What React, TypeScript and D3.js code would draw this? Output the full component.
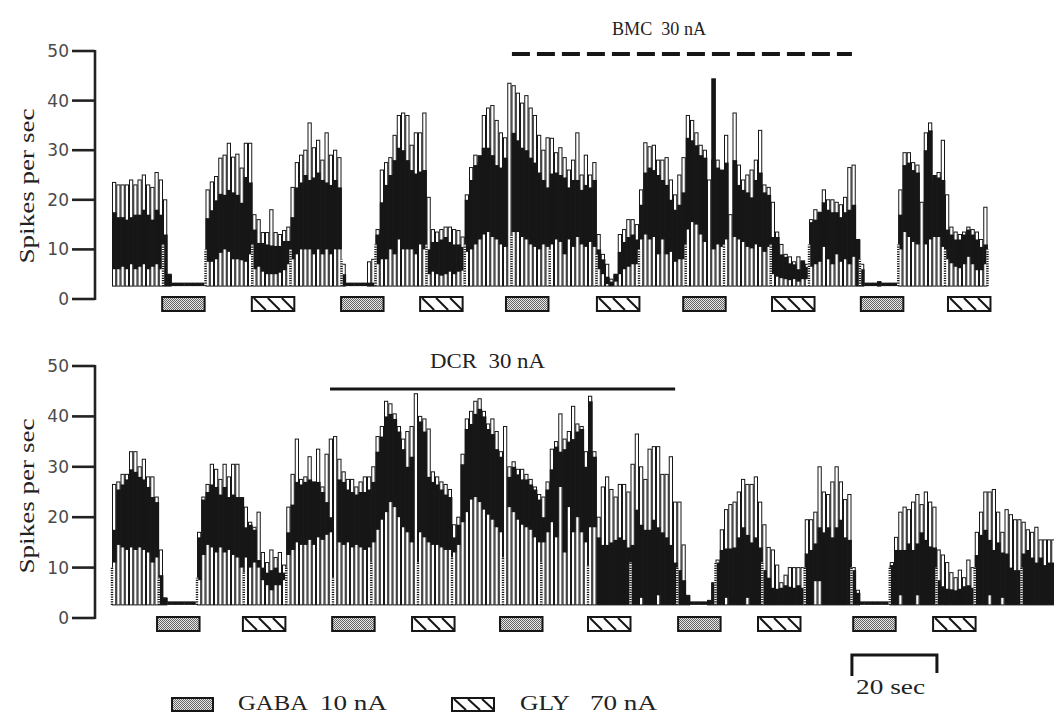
import React from "react";
import * as d3 from "d3";

// ---------- data (1-s bins, spikes per sec) ----------
const BASELINE = 2.6;
const yTicks = [0, 10, 20, 30, 40, 50];

// Upper panel (BMC 30 nA)
const topPeak = [
  23.5,23,23,23,24,23,24,25,23,22.5,25.5,24,
  20,5,3,3,3,3,3,3,3,3,
  22,23.6,24.7,28.4,29,31.4,28.6,29.2,26.4,31.4,31.4,
  17,16,13.4,13.4,18,13.4,13,13.8,14.5,
  22.5,27.5,29,30,35.5,30.5,32,28,33.5,29,30,28.5,
  7,3,3,3,3,3,7.5,8,
  14,26,27.5,28.5,33,37,37.5,37,31,33.5,33.5,37.5,
  20.5,14,13.5,14,14.5,14.5,14,13.8,12.5,
  21,26.5,29,27.5,37,38.5,39,36,33.5,32.5,43.5,
  43,41.5,39.5,41,38.5,37,33,30,32.5,
  32.4,29.5,30.5,28.5,26,28,33.5,25,29,25,27.5,
  13,9,7,4,5,13,14,16,16,15,
  22,31.5,30.7,31,28,28,28.5,24,21,25,28.5,
  37,36,33.5,31,30,24,28,28,26,
  33,17,37.5,27,24,25,26,28,34,23,22.5,
  19.5,13.5,11,9,8.5,7.5,8.5,7.5,7,
  16,18,17.5,22,20,20,19.5,19,20.5,26.5,27,12,
  7,3,3,3,3.5,3,3,3,3,
  22,29.5,29.5,27.5,27,19.5,33.5,35.5,24,25.5,32,
  21,14.5,13.5,13,13.5,14.5,14,13.5,12,18.5,
];
const topHigh = [
  17.5,16.5,16.5,16,16.5,17,17,18,17,16,18,17,
  13,5,3.3,3.3,3.3,3.3,3.3,3.3,3.3,3.3,
  16.3,17.9,19.9,21.2,21,22,21.5,21,19.4,24.6,23.5,
  14,11.3,11.3,11,10.8,10.7,10.7,11.7,11.7,
  16.5,22.5,23.5,25,24,24.5,25.5,24,23.5,23,24,22.5,
  5,3.3,3.3,3.3,3.3,3.3,3.3,3.3,
  13,19.5,23,25,28,30.5,30,28,26,25.3,25.7,26,
  10,11.5,11.5,12,12.5,11.5,11,11,10.5,
  20,24,27,29,30.5,30.5,29,27,26.5,28.5,13,
  33.5,32,30.5,30,28.5,27.5,25.5,24,22.5,
  25.3,25.5,25,24.5,22.5,24,24,22,23,22.5,24,
  10,8,4.5,3.5,5,9.5,11.5,12.5,13,12,
  19,25.5,26.5,26,25,24,23,20,18,19,21.5,
  32.5,32,31,29,28.5,11,44.5,26.5,26,
  27.5,12,28,23,22,21.5,20.5,24,25.5,21.5,21,
  12.5,12.5,9,8.5,7.2,7,6,7.8,6.5,
  15.5,16,17.5,19.5,18,17.5,17.5,16.5,17.5,18,19,12,
  6,3.3,3.3,3.3,3.5,3.3,3.3,3.3,3.3,
  17,27,27.5,26,25.5,10.5,30,34,25,24.5,24,
  14,13,12,12,13,14,13,12,10.5,11,
];
const topLow = [
  6,6,6.5,6,7,6,6.5,7,6,6.5,7,6,
  2.6,2.6,2.6,2.6,2.6,2.6,2.6,2.6,2.6,2.6,
  7.5,7.5,8,9.3,10,9.5,8,8,7.8,7.5,9,
  6,6.5,5.5,5,5,5,5.3,5.8,7,
  8,9,10,10,10,9,10,9,10,9,10,10,
  2.6,2.6,2.6,2.6,2.6,2.6,2.6,2.6,
  7,8,8,10,9,12,10,10,10,9,11,10,
  5,5.5,5,4.7,5,5.5,5,5.5,5.7,
  9.5,10,11,12,13,13.5,12.5,12,11,10.5,13,
  13.5,13.5,12.5,12,11,10.5,10,11,10.5,
  11,12,11.5,9,12,10.5,12.5,11,10.5,11.5,10.5,
  6,5,3,2.6,3.5,5,6,6.5,7,7,
  12,13,12,12.5,9,12,9,9.5,7.5,8,8,
  14,15.5,15,13,11.5,11,10,11,10.5,
  12,12,12.5,12,11.5,10.5,10.2,11,10.5,9.5,10.5,
  5,4.5,4.2,4,3.8,4,3.5,4,4,
  6.5,7,7.5,10.5,8,7,9,7.5,8,7,8.5,2.6,
  2.6,2.6,2.6,2.6,2.6,2.6,2.6,2.6,2.6,
  10,13.5,12.5,11.5,11,10.5,11,12,12.5,12.5,10.5,
  8,7.2,6.5,6.2,7,8.5,7,5.8,5.8,7,
];
const topMarkerBins = [12,22,33,42,54,62,74,83,94,103,114,124,135,144,155,164,176,185,196,206];
const topMarkerHeights = [11,10,11,10,8,11,11,11,13,10,9,10,11,11,11,11,8,11,10,10];
const topGabaOnsets = [11.8, 53.9, 92.7, 134.4, 176.2];
const topGlyOnsets = [32.9, 72.5, 114.1, 155.3, 196.7];

// Lower panel (DCR 30 nA)
const bottomPeak = [
  26.5,27,28.5,28.5,33,33,30,31.5,28,28,24,
  13.5,4,3,3,3,3,3,3,3,
  17,24,26.5,30.5,29.5,27.5,30.5,28,30.5,30.5,23,
  22,19,18,21,13,11,13.5,12,13,10.5,
  22,28.5,35.5,27.5,28,32,27,33.5,26,32.5,35.5,
  36,31.5,29,27.5,27.5,26,27,28,28,
  30,36,38,43,42.5,40.5,38,35.5,37,38,44.5,
  40,39.5,37.5,29,28,27,26.5,25.5,
  18.5,20,32.5,39.5,41,43,43.5,41,38.5,39.5,37,33,
  38,30,31,29.5,29.5,28.5,27.5,26,24.5,
  24,27,33.5,35,40.5,35.5,37,42,38.5,38,33,
  44,33,20,26,28,25.5,24,26.5,26.5,25,
  30.5,36.5,30,27.5,33.5,34,34,28.5,28.5,32,23,
  23,14.5,4.5,3,3,3,3,3.5,7,
  11.5,17.5,21.5,22.5,23,25,27.5,26.5,26.5,28,23,
  18.5,14,13.5,10.5,7,8.5,10,10,10,10,
  19.5,19.5,21,30,25,24.5,27,30,27,23.5,24.5,
  10,5.5,3,3,3,3,3,3,3,
  11,16,21,22,21.5,23,24.5,22.5,25,23,22,
  13.5,12.5,11,9,8,9.5,8,11.5,10,
  17,21,25,25,25.5,21,17,21.5,20.5,19.5,19.5,
  19,17.5,17,18,15.5,15.5,15.5,15.5,
];
const bottomHigh = [
  17.5,25.5,26.5,27.5,29.5,29,28,27.5,26,24,23,
  8.5,4,3.3,3.3,3.3,3.3,3.3,3.3,3.3,
  16,23.5,25,26.5,26,24.5,26,24,24.5,24,24,
  18,18.5,17.5,11.5,10,9,9.5,10,9,9,
  17,22.5,27,26.5,27,27.5,27,27,25,23,20,
  14,27.5,27,25.5,25,24.5,25,25,25.5,
  27,33,36,40,40.5,39.5,37,33.5,30,32,15,
  39,37,28,27,26.5,25.5,24.5,24,
  16,18.5,30.5,37.5,38.5,40.5,41.5,40,37.5,36.5,33.5,32,
  20,28,30,28.5,27.5,27.5,26.5,25.5,23.5,
  20,25.5,29.5,34,33,33.5,35,35.5,37,37.5,30,
  43,32,16,14.5,14.5,15,15.5,16,15.5,14,
  14.5,21.5,18.5,17.5,17.5,19.5,18,17,16,14.5,11,
  9.5,7.5,4.5,3.3,3.3,3.3,3.3,3.5,7,
  11,13.5,13.8,13.8,14,16,18,16.5,15,16,14,
  9.5,8,6,5.8,6,6.5,6.2,6,6.5,6,
  12.8,13.5,14.8,18,17,18,16,18,19.5,16,15.5,
  9.5,5,3.3,3.3,3.3,3.3,3.3,3.3,3.3,
  10.5,13.5,13.5,13.5,14.8,13.5,14.8,17,15.5,14.2,14,
  7.5,6.3,5.8,5.7,5.5,5.8,6.3,6.5,6,
  12.5,16.5,17.5,15.5,13.5,15,13,12.8,10,9.5,9.5,
  12.8,13.5,12,11,12,10.5,11,11,
];
const bottomLow = [
  11,14.5,14,13.5,14,13.5,14,13.5,13,11,12,
  2.6,2.6,2.6,2.6,2.6,2.6,2.6,2.6,2.6,
  7.5,12.5,14.5,14,13,14,13,13.5,12.5,12,10,
  12,10,11,10,7.5,6.5,5.5,6.5,6.5,7.5,
  12.5,13.5,15,14.5,14.5,15.5,14.5,16,15.5,16.5,17,
  14,15,14.5,15,14,14.5,14,13.5,14,
  15,17.5,19.5,21,23,22,20,18,17,15,15,
  17,16,15,14.5,14.5,14,13.5,13.5,
  13,14.5,19,21,23.5,24,23,21.5,20.5,19.5,18,17,
  20,22,21,19.5,18.5,18,17.5,16,15,
  15,17,19,16,26,13,22,17,20,17,15,
  18,18,2.6,2.6,2.6,2.6,2.6,2.6,2.6,2.6,
  2.6,2.6,4,2.6,2.6,2.6,4.5,2.6,2.6,2.6,2.6,
  2.6,2.6,2.6,2.6,2.6,2.6,2.6,2.6,2.6,
  2.6,2.6,4,2.6,2.6,2.6,2.6,4,2.6,2.6,2.6,
  2.6,2.6,2.6,2.6,2.6,2.6,2.6,2.6,2.6,2.6,
  2.6,2.6,7.3,7.3,2.6,2.6,2.6,2.6,2.6,2.6,2.6,
  2.6,2.6,2.6,2.6,2.6,2.6,2.6,2.6,2.6,
  2.6,2.6,4.5,2.6,2.6,2.6,4.5,2.6,2.6,2.6,2.6,
  2.6,2.6,2.6,2.6,2.6,2.6,2.6,2.6,2.6,
  2.6,2.6,2.6,4.5,2.6,2.6,4,2.6,2.6,2.6,2.6,
  2.6,2.6,2.6,2.6,2.6,2.6,2.6,2.6,
];
const bottomMarkerBins = [0,11,20,31,41,52,61,72,80,92,101,112,122,133,142,153,163,174,183,194,203,214];
const bottomMarkerHeights = [10,8,8,9,10,8,11,11,12,12,11,10.5,11,10,11,11,10,10,10,10,10,10];
const bottomGabaOnsets = [10.6, 51.8, 91.3, 133.2, 174.4];
const bottomGlyOnsets = [30.8, 70.6, 112, 152, 193.2];

const PULSE_SEC = 10;
const bmcPeriod = [94.1, 174.1];
const dcrPeriod = [51.3, 132.5];
const SCALE_BAR_SEC = 20;

// ---------- layout ----------
const W = 1054;
const H = 716;
const x = d3.scaleLinear().domain([0, 200]).range([112, 962]);
const yTop = d3.scaleLinear().domain([0, 50]).range([299, 51]);
const yBot = d3.scaleLinear().domain([0, 50]).range([618, 366]);

const INK = "#161616";
const SERIF = "'Liberation Serif', 'Times New Roman', serif";

function StimBox({ t, y, kind }: { t: number; y: number; kind: "gaba" | "gly" }) {
  const bx = x(t);
  const bw = x(t + PULSE_SEC) - bx;
  const h = 14;
  return (
    <g>
      <rect x={bx} y={y} width={bw} height={h} fill={kind === "gaba" ? "url(#stipple)" : "#fff"} stroke={INK} strokeWidth={2} />
      {kind === "gly" &&
        [0, 1, 2].map((k) => (
          <line key={k} x1={bx + 2 + k * 14} y1={y + 1} x2={bx + 14 + k * 14} y2={y + h - 1} stroke={INK} strokeWidth={2} />
        ))}
    </g>
  );
}

function Panel(props: {
  y: d3.ScaleLinear<number, number>;
  peak: number[];
  high: number[];
  low: number[];
  markerBins: number[];
  markerHeights: number[];
  gaba: number[];
  gly: number[];
  boxY: number;
  labelY: number;
}) {
  const { y, peak, high, low } = props;
  const base = y(BASELINE);
  return (
    <g>
      {/* outlined bars */}
      {peak.map((p, i) => {
        if (p <= BASELINE + 0.6) return null;
        const x0 = x(i);
        const w = x(i + 1) - x0;
        return (
          <rect key={"b" + i} x={x0 + 0.5} y={y(p)} width={w - 1} height={base - y(p)} fill="#fff" stroke={INK} strokeWidth={1} />
        );
      })}
      {/* dark band */}
      {high.map((h, i) => {
        const l = low[i];
        if (h <= l) return null;
        const x0 = x(i);
        const w = x(i + 1) - x0;
        return <rect key={"d" + i} x={x0} y={y(h)} width={w + 0.4} height={y(l) - y(h)} fill={INK} />;
      })}
      {/* dotted sweep markers */}
      {props.markerBins.map((b, i) => (
        <g key={"m" + i}>
          <line x1={x(b)} x2={x(b)} y1={base} y2={y(props.markerHeights[i])} stroke="#fff" strokeWidth={2.4} />
          <line x1={x(b)} x2={x(b)} y1={base} y2={y(props.markerHeights[i])} stroke={INK} strokeWidth={2.4} strokeDasharray="1.2,1.2" />
        </g>
      ))}
      {/* axis */}
      <line x1={95} x2={95} y1={y(0) + 1} y2={y(50) - 1} stroke="#222" strokeWidth={2.6} />
      {yTicks.map((t) => (
        <g key={t}>
          <line x1={72} x2={95} y1={y(t)} y2={y(t)} stroke="#222" strokeWidth={2.6} />
          <text x={69} y={y(t)} textAnchor="end" dominantBaseline="central" fontFamily="'DejaVu Sans', sans-serif" fontSize={17} fill="#4a4a4a">
            {t}
          </text>
        </g>
      ))}
      <text
        transform={`translate(34,${props.labelY}) rotate(-90)`}
        textAnchor="middle"
        fontFamily={SERIF}
        fontSize={22}
        fill="#222"
        textLength={155}
        lengthAdjust="spacingAndGlyphs"
      >
        Spikes per sec
      </text>
      {props.gaba.map((t, i) => (
        <StimBox key={"g" + i} t={t} y={props.boxY} kind="gaba" />
      ))}
      {props.gly.map((t, i) => (
        <StimBox key={"l" + i} t={t} y={props.boxY} kind="gly" />
      ))}
    </g>
  );
}

export default function App() {
  return (
    <svg width={W} height={H} viewBox={`0 0 ${W} ${H}`} style={{ position: "absolute", left: 0, top: 0, background: "#fff" }}>
      <defs>
        <pattern id="stipple" patternUnits="userSpaceOnUse" width={2} height={2}>
          <rect width={2} height={2} fill="#e6e6e6" />
          <rect width={1} height={1} fill="#666" />
          <rect x={1} y={1} width={1} height={1} fill="#666" />
        </pattern>
      </defs>
      <rect width={W} height={H} fill="#fff" />

      {/* BMC label and dashed bar */}
      <text x={612} y={35} fontFamily={SERIF} fontSize={18} fill="#222" style={{ whiteSpace: "pre" }} textLength={94} lengthAdjust="spacingAndGlyphs">
        BMC  30 nA
      </text>
      <line x1={x(bmcPeriod[0])} x2={x(bmcPeriod[1])} y1={54} y2={54} stroke={INK} strokeWidth={4} strokeDasharray="18,7" />

      <Panel
        y={yTop}
        peak={topPeak}
        high={topHigh}
        low={topLow}
        markerBins={topMarkerBins}
        markerHeights={topMarkerHeights}
        gaba={topGabaOnsets}
        gly={topGlyOnsets}
        boxY={297}
        labelY={186}
      />

      {/* DCR label and bar */}
      <text x={430} y={368} fontFamily={SERIF} fontSize={21} fill="#222" style={{ whiteSpace: "pre" }} textLength={115} lengthAdjust="spacingAndGlyphs">
        DCR  30 nA
      </text>
      <line x1={x(dcrPeriod[0])} x2={x(dcrPeriod[1])} y1={389} y2={389} stroke={INK} strokeWidth={3} />

      <Panel
        y={yBot}
        peak={bottomPeak}
        high={bottomHigh}
        low={bottomLow}
        markerBins={bottomMarkerBins}
        markerHeights={bottomMarkerHeights}
        gaba={bottomGabaOnsets}
        gly={bottomGlyOnsets}
        boxY={617}
        labelY={496}
      />

      {/* scale bar */}
      <path
        d={`M${x(174.1)},676 V655 H${x(174.1 + SCALE_BAR_SEC)} V673`}
        fill="none"
        stroke={INK}
        strokeWidth={3}
      />
      <text x={856} y={694} fontFamily={SERIF} fontSize={22} fill="#222" textLength={69} lengthAdjust="spacingAndGlyphs">
        20 sec
      </text>

      {/* legend */}
      <rect x={172} y={698} width={41} height={13} fill="url(#stipple)" stroke={INK} strokeWidth={2} />
      <text x={238} y={710} fontFamily={SERIF} fontSize={21} fill="#222" textLength={70} lengthAdjust="spacingAndGlyphs">
        GABA
      </text>
      <text x={320} y={710} fontFamily={SERIF} fontSize={21} fill="#222" textLength={67} lengthAdjust="spacingAndGlyphs">
        10 nA
      </text>
      <rect x={452} y={698} width={42} height={13} fill="#fff" stroke={INK} strokeWidth={2} />
      {[0, 1, 2].map((k) => (
        <line key={k} x1={454 + k * 14} y1={699} x2={466 + k * 14} y2={710} stroke={INK} strokeWidth={2} />
      ))}
      <text x={520} y={710} fontFamily={SERIF} fontSize={21} fill="#222" textLength={50} lengthAdjust="spacingAndGlyphs">
        GLY
      </text>
      <text x={590} y={710} fontFamily={SERIF} fontSize={21} fill="#222" textLength={67} lengthAdjust="spacingAndGlyphs">
        70 nA
      </text>
    </svg>
  );
}
